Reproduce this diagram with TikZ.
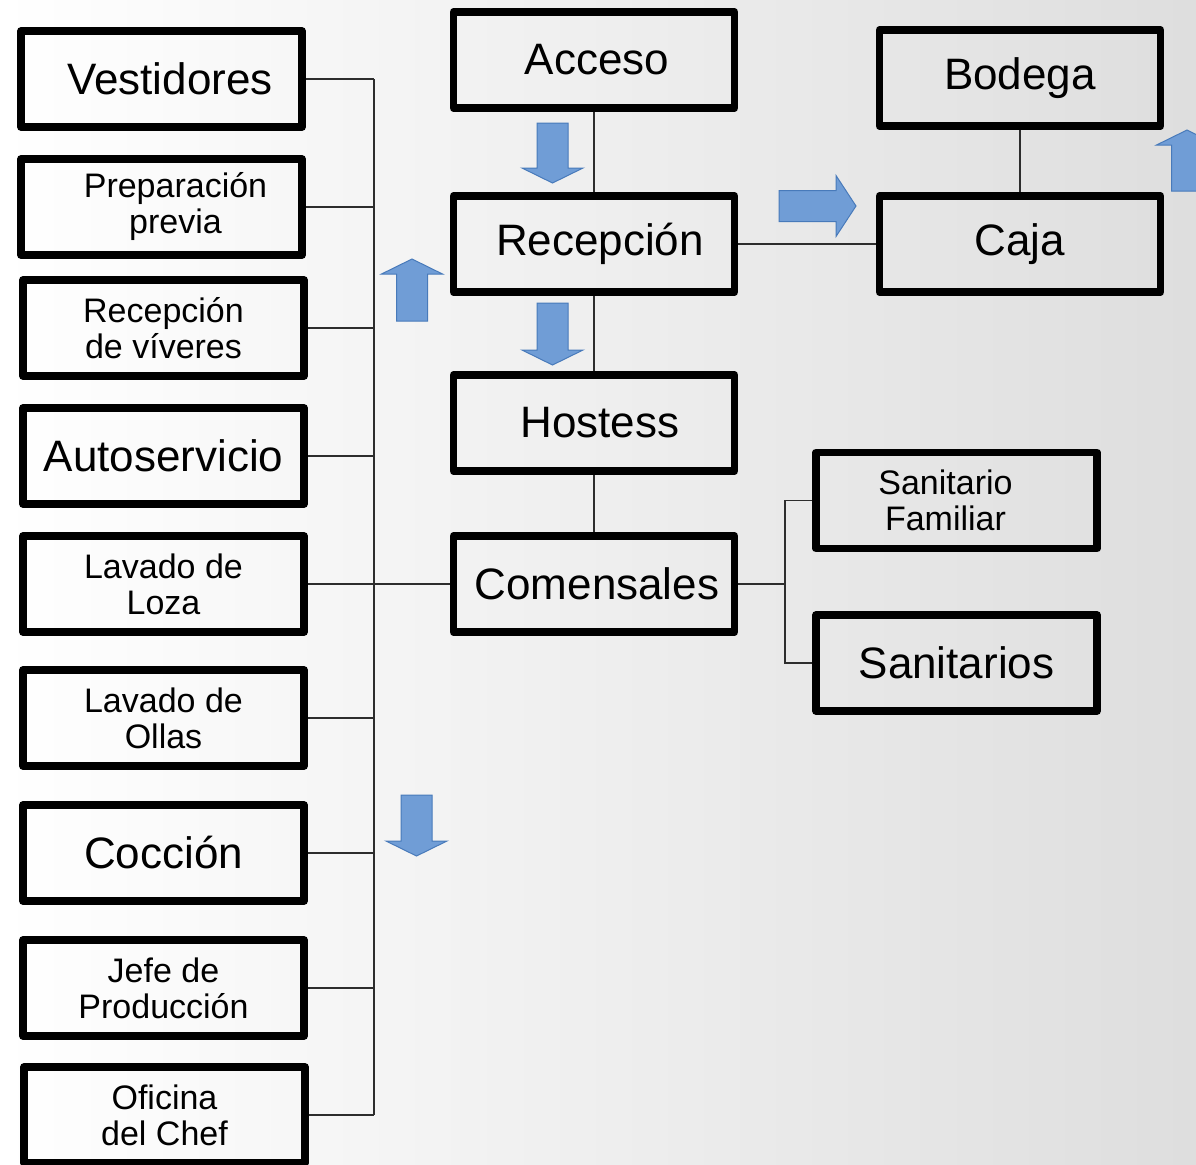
\documentclass[tikz,border=0pt]{standalone}
\usepackage{fontspec}
\setmainfont{Liberation Sans}
\usepackage{tikz}
\usetikzlibrary{calc, positioning}
\usepackage{xcolor}
\definecolor{arrowFill}{RGB}{112, 157, 214}
\definecolor{arrowEdge}{RGB}{72, 122, 186}
\definecolor{linkGray}{RGB}{45, 45, 45}

\tikzset{
  roombox/.style={draw, line width=3.8pt, line join=round, minimum width=140.5pt,
                  minimum height=48pt, inner sep=0pt, align=center},
  bigroom/.style={roombox, font=\fontsize{22}{26}\selectfont},
  smallroom/.style={roombox, font=\fontsize{17}{18}\selectfont},
  link/.style={draw=linkGray, line width=0.7pt},
  blockarrow/.style={fill=arrowFill, draw=arrowEdge, line width=0.5pt}
}

\begin{document}
\begin{tikzpicture}[x=0.5pt, y=-0.5pt]
  \clip (0,0) rectangle (1196,1164);
  \shade[left color=white, right color=black!13] (0,0) rectangle (1196,1164);

  % left column
  \node[bigroom]   (vest) at (161.5, 79)  {\hspace*{8.5pt}Vestidores};
  \node[smallroom] (prep) at (161.5, 207) {\hspace*{14pt}Preparación\\\hspace*{14pt}previa};
  \node[smallroom] (reciv) at (163.5, 328) {Recepción\\de víveres};
  \node[bigroom]   (auto) at (163.5, 456) {Autoservicio};
  \node[smallroom] (loza) at (163.5, 584) {Lavado de\\Loza};
  \node[smallroom] (ollas) at (163.5, 718) {Lavado de\\Ollas};
  \node[bigroom]   (cocc) at (163.5, 853) {Cocción};
  \node[smallroom] (jefe) at (163.5, 988) {Jefe de\\Producción};
  \node[smallroom] (ofi) at (164.5, 1115) {Oficina\\del Chef};

  % middle column
  \node[bigroom] (acc)  at (594, 60)  {\hspace*{3pt}Acceso};
  \node[bigroom] (rec)  at (594, 244) {\hspace*{6pt}Recepción};
  \node[bigroom] (host) at (594, 423) {\hspace*{6pt}Hostess};
  \node[bigroom] (com)  at (594, 584) {\hspace*{3pt}Comensales};

  % right side
  \node[bigroom] (bod)  at (1020, 78)  {Bodega};
  \node[bigroom] (caja) at (1020, 244) {Caja};
  \node[smallroom] (sanf) at (956.5, 500.5) {\hspace*{-11pt}Sanitario\\\hspace*{-11pt}Familiar};
  \node[bigroom]   (sans) at (956.5, 663) {Sanitarios};

  % connectors
  \coordinate (trunk) at (374, 0);
  \coordinate (sbus) at (785, 584);
  \foreach \n in {vest, prep, reciv, auto, loza, ollas, cocc, jefe, ofi}
    \draw[link] (\n.east) -- (\n.east -| trunk);
  \draw[link] (vest.east -| trunk) -- (ofi.east -| trunk);
  \draw[link] (com.west) -- (com.west -| trunk);
  \draw[link] (acc.south) -- (rec.north);
  \draw[link] (rec.south) -- (host.north);
  \draw[link] (host.south) -- (com.north);
  \draw[link] (rec.east) -- (caja.west);
  \draw[link] (bod.south) -- (caja.north);
  \draw[link] (com.east) -- (sbus);
  \draw[link] (sanf.west) -| (sbus) |- (sans.west);

  % block arrows: x / y / angle / shaft / head
  \foreach \x/\y/\r/\l/\h in {552.5/123/-90/45/15, 552.5/303/-90/47/15,
                              416.5/795/-90/46/15, 412/321/90/47/15,
                              1187/191/90/46/15, 779/206/0/57/20} {
    \path[blockarrow, shift={(\x,\y)}, rotate=\r]
      (0,-15.5) -- (\l,-15.5) -- (\l,-30.5) -- ({\l+\h},0) -- (\l,30.5)
      -- (\l,15.5) -- (0,15.5) -- cycle;
  }
\end{tikzpicture}
\end{document}
